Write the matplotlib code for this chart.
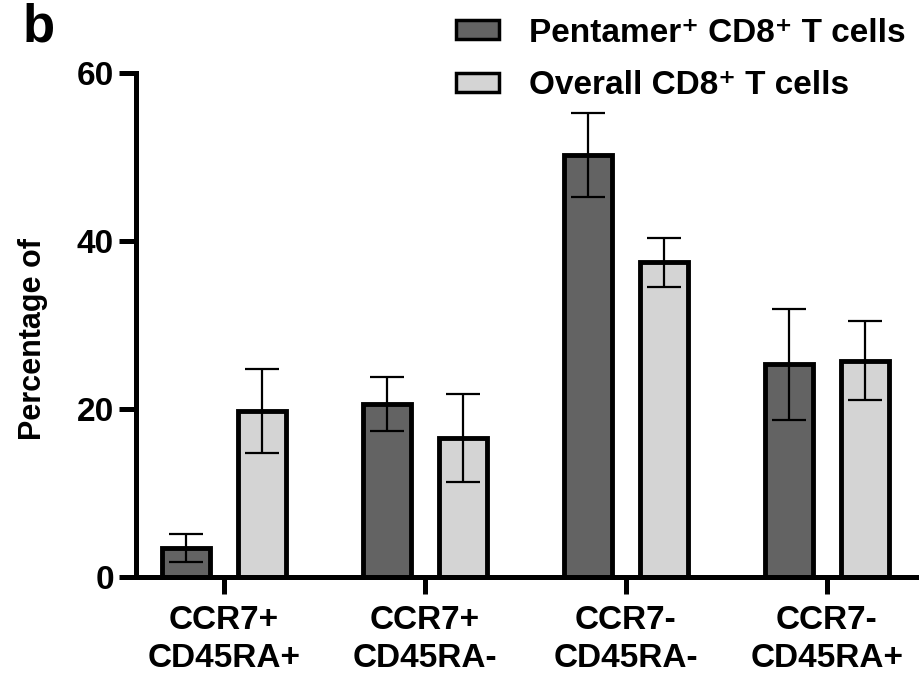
import numpy as np
import matplotlib
matplotlib.use("Agg")
import matplotlib.pyplot as plt
from matplotlib.patches import Patch

plt.rcParams['font.family'] = ['Liberation Sans', 'DejaVu Sans']
plt.rcParams['font.weight'] = 'bold'

# datos
categorias = ["CCR7+\nCD45RA+", "CCR7+\nCD45RA-", "CCR7-\nCD45RA-", "CCR7-\nCD45RA+"]
pentamer = [3.5, 20.6, 50.3, 25.4]
pentamer_err = [1.7, 3.2, 5.0, 6.6]
overall = [19.8, 16.6, 37.5, 25.8]
overall_err = [5.0, 5.2, 2.9, 4.7]

color_oscuro = "#636363"
color_claro = "#d4d4d4"

fig = plt.figure(figsize=(9.2, 6.87), dpi=100)
ax = fig.add_axes([0.1478, 0.1594, 0.8522, 0.7339])

x = np.arange(len(categorias))
ancho = 0.24
desp = 0.1875

ax.bar(x - desp, pentamer, ancho, color=color_oscuro, edgecolor="black", linewidth=3.5, zorder=2)
ax.bar(x + desp, overall, ancho, color=color_claro, edgecolor="black", linewidth=3.5, zorder=2)
ax.errorbar(x - desp, pentamer, yerr=pentamer_err, fmt="none", ecolor="black",
            elinewidth=1.6, capsize=12, capthick=1.6, zorder=3)
ax.errorbar(x + desp, overall, yerr=overall_err, fmt="none", ecolor="black",
            elinewidth=1.6, capsize=12, capthick=1.6, zorder=3)

ax.set_xlim(-0.438, 3.463)
ax.set_ylim(0, 60)
ax.set_yticks([0, 20, 40, 60])
ax.set_xticks(x)
ax.set_xticklabels(categorias, fontsize=24, fontweight="bold", linespacing=1.3)
for lbl in ax.get_yticklabels():
    lbl.set_fontsize(24)
    lbl.set_fontweight("bold")

for s in ["top", "right"]:
    ax.spines[s].set_visible(False)
for s in ["left", "bottom"]:
    ax.spines[s].set_linewidth(3.6)
ax.spines["left"].set_zorder(4)
ax.spines["bottom"].set_zorder(4)
ax.tick_params(axis="both", length=12, width=3.6, pad=4)
ax.tick_params(axis="x", pad=8)

ax.set_ylabel("Percentage of", fontsize=22, fontweight="bold")
ax.yaxis.set_label_coords(-0.112, 0.474)

handles = [Patch(facecolor=color_oscuro, edgecolor="black", linewidth=2.5),
           Patch(facecolor=color_claro, edgecolor="black", linewidth=2.5)]
etiquetas = ["Pentamer\u207a CD8\u207a T cells", "Overall CD8\u207a T cells"]
fig.legend(handles, etiquetas, loc="upper left", bbox_to_anchor=(0.463, 1.018),
           frameon=False, prop={"size": 24, "weight": "bold"},
           handlelength=1.3, handleheight=0.5, handletextpad=0.9, labelspacing=0.65)

fig.text(0.025, 0.997, "b", fontsize=38, fontweight="bold", va="top", ha="left")

fig.savefig("out.png", dpi=100)
